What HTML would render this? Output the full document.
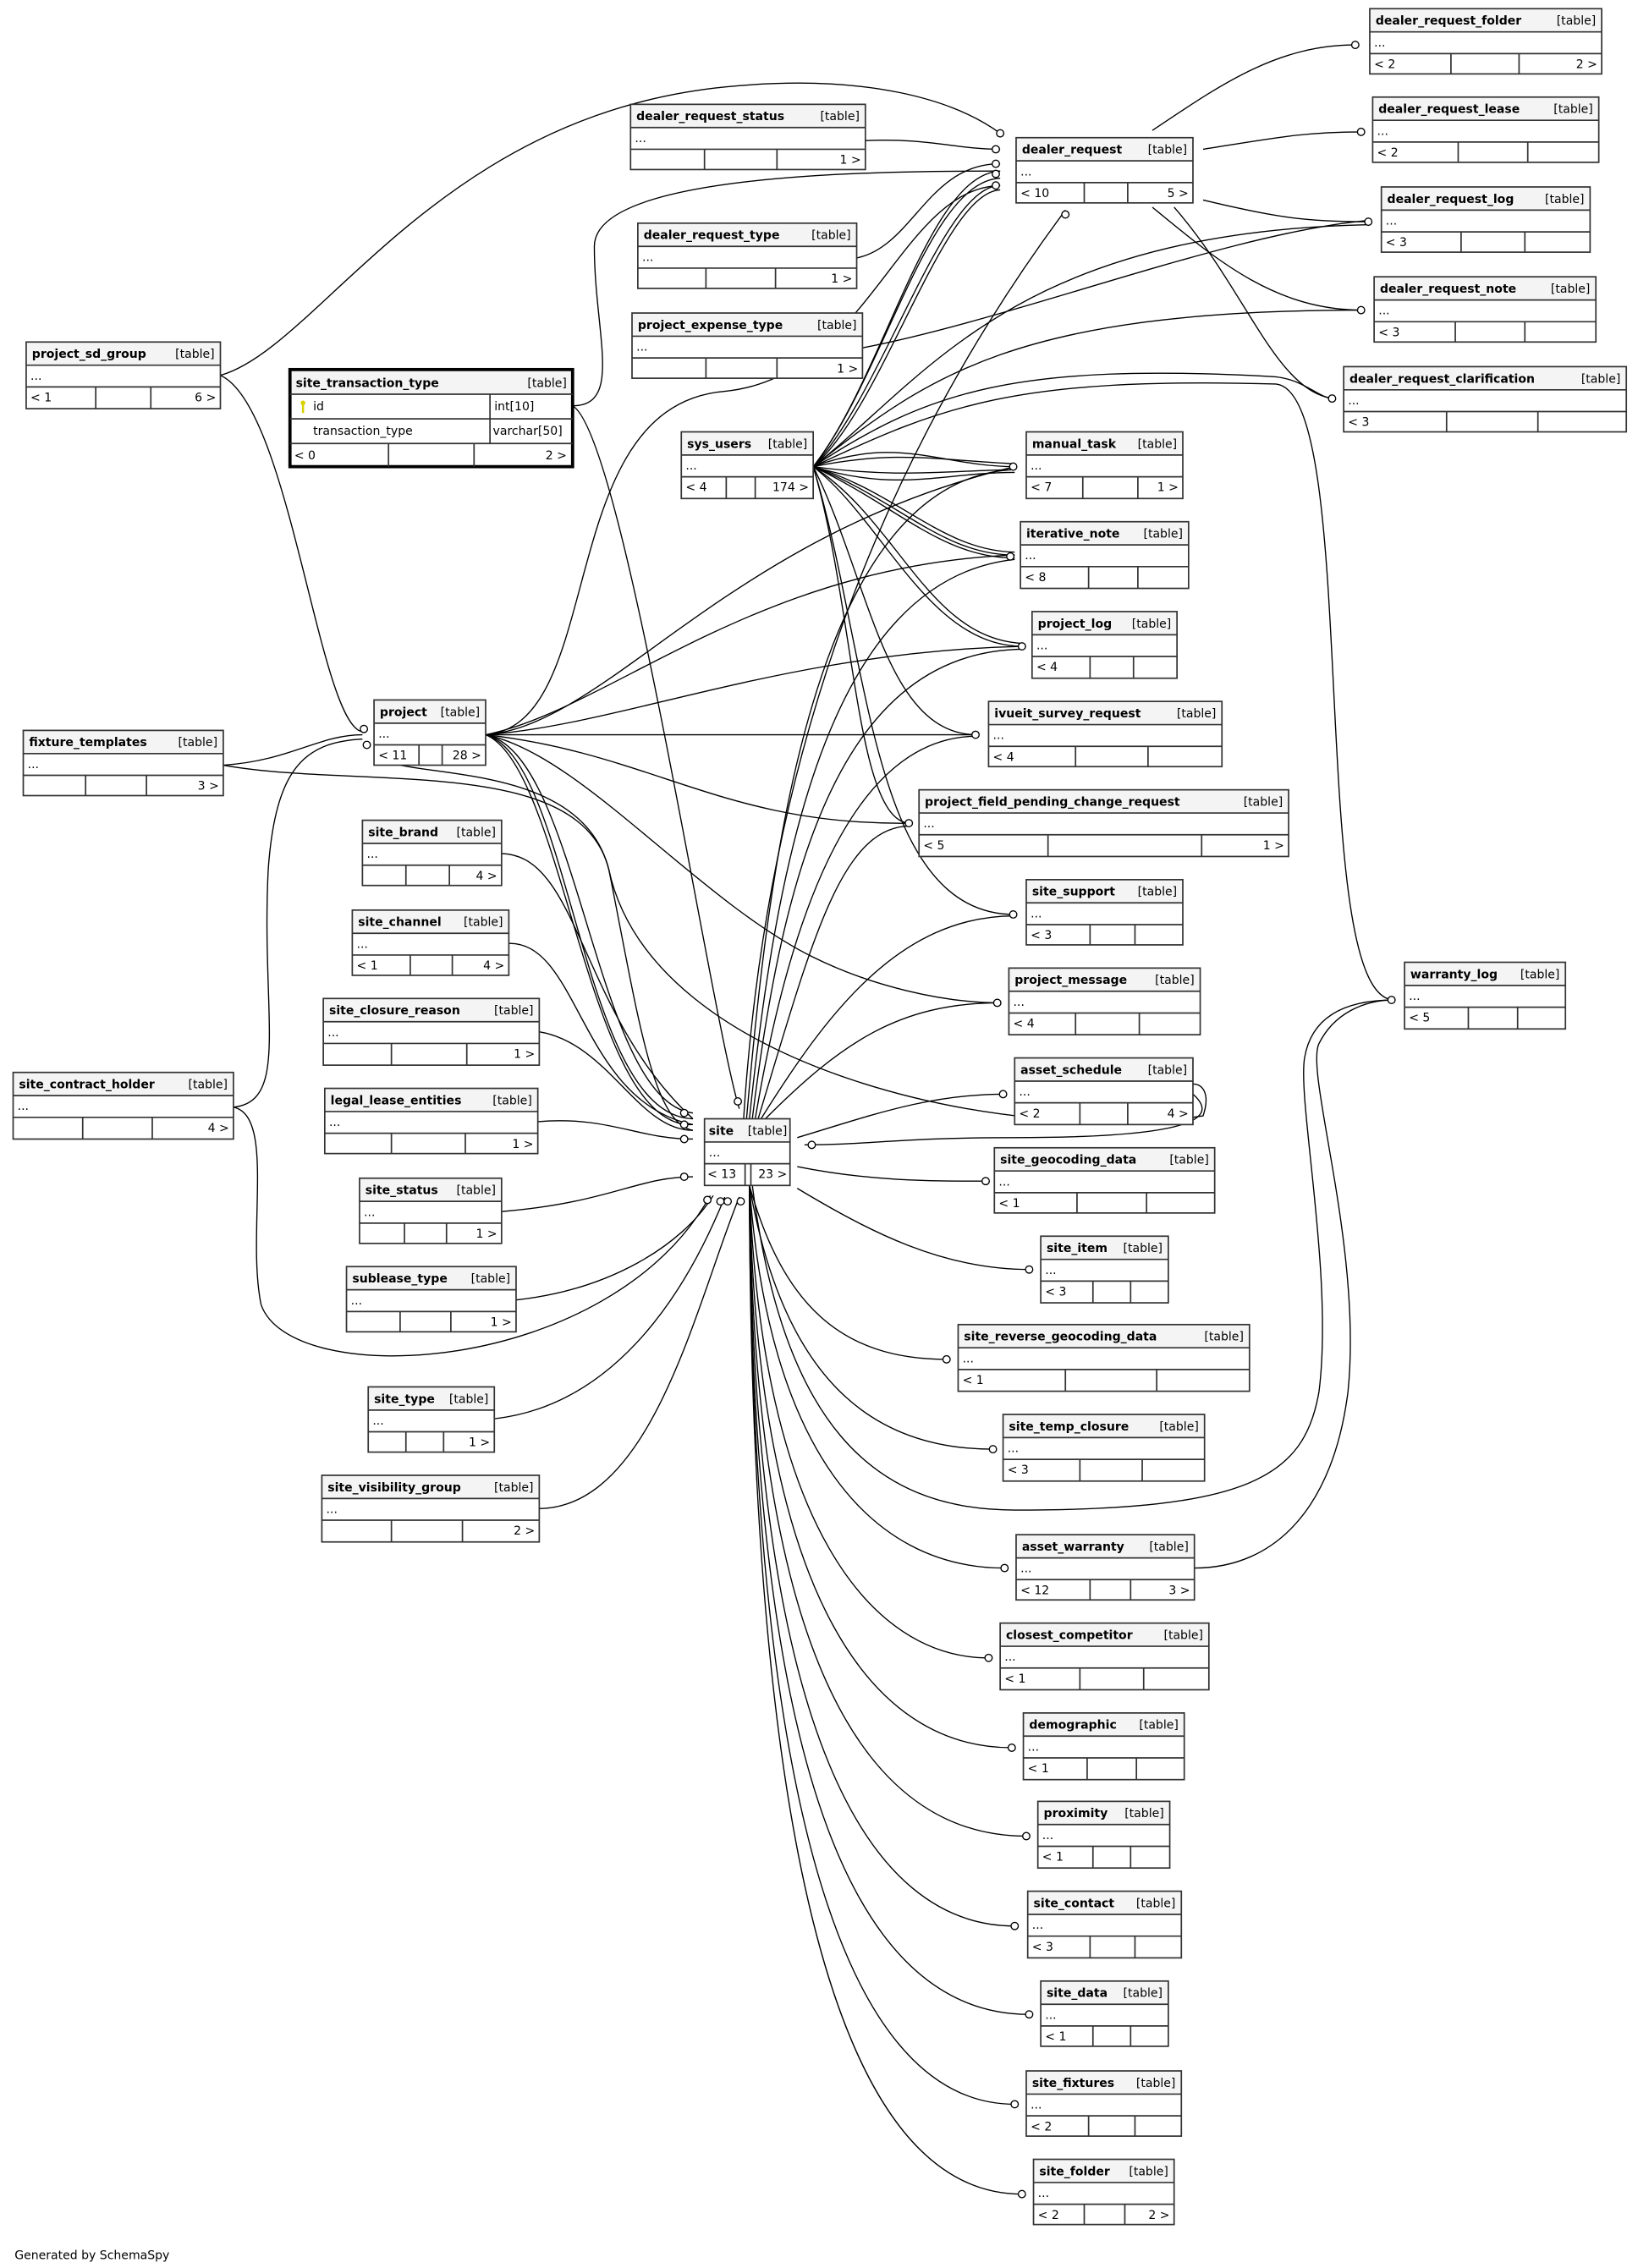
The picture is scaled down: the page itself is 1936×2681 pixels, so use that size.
<!DOCTYPE html>
<html><head><meta charset="utf-8"><style>
html,body{margin:0;padding:0;background:#fff;}
svg{display:block;}
text{font-family:"DejaVu Sans","Liberation Sans",sans-serif;font-size:8.2px;fill:#000;}
.n{font-weight:bold;}
.r{text-anchor:end;}
.o{fill:none;stroke:#333;stroke-width:1;}
.h{fill:#f4f4f4;}
.l{stroke:#333;stroke-width:1;fill:none;}
.e path{fill:none;stroke:#000;stroke-width:0.8;}
.e circle{fill:#fff;stroke:#000;stroke-width:0.8;}
</style></head><body>
<svg width="1936" height="2681" viewBox="0 0 1130 1565" xmlns="http://www.w3.org/2000/svg">
<rect width="1130" height="1565" fill="#fff"/>
<g class="e">
<path d="M152,259 C220,240 300,80 500,60 C600,50 660,70 690,92"/>
<path d="M152,259 C200,280 220,500 250,505"/>
<path d="M597,97 C640,95 660,103 690,103"/>
<path d="M395,280 C430,280 410,230 410,170 C410,120 600,118 690,118"/>
<path d="M395,280 C430,300 490,700 510,765"/>
<path d="M591,178 C630,170 640,113 690,113"/>
<path d="M595,240 C700,220 850,160 945,152"/>
<path d="M795,90 C840,60 880,31 935,31"/>
<path d="M830,103 C880,95 900,91 940,91"/>
<path d="M830,138 C880,150 900,153 945,153"/>
<path d="M795,143 C840,180 880,214 940,214"/>
<path d="M810,143 C860,200 880,270 920,275"/>
<path d="M561,322 C620,300 650,322 700,322"/>
<path d="M561,322 C620,310 650,318 700,320"/>
<path d="M561,322 C620,330 650,325 700,324"/>
<path d="M561,322 C620,340 650,326 700,326"/>
<path d="M561,322 C620,340 650,380 700,381"/>
<path d="M561,322 C620,345 650,383 700,383"/>
<path d="M561,322 C620,350 650,385 700,385"/>
<path d="M561,322 C610,360 640,445 705,446"/>
<path d="M561,322 C620,360 640,440 705,444"/>
<path d="M561,322 C610,260 640,120 690,118"/>
<path d="M561,322 C610,260 640,125 690,123"/>
<path d="M561,322 C610,270 650,128 690,128"/>
<path d="M561,322 C610,280 650,133 690,131"/>
<path d="M561,322 C640,260 700,160 945,155"/>
<path d="M561,322 C640,260 700,214 940,214"/>
<path d="M561,322 C640,270 700,250 880,260 C900,262 910,275 920,275"/>
<path d="M561,322 C650,280 700,260 880,265 C940,270 900,690 962,690"/>
<path d="M561,322 C600,400 610,507 674,507"/>
<path d="M561,322 C590,420 590,568 628,568"/>
<path d="M561,322 C600,450 600,631 700,631"/>
<path d="M335,507 C420,500 380,280 500,270 C600,260 620,130 690,128"/>
<path d="M335,507 C420,500 500,370 700,322"/>
<path d="M335,507 C420,490 520,390 700,383"/>
<path d="M335,507 C430,500 540,450 705,446"/>
<path d="M335,507 L674,507"/>
<path d="M335,507 C450,520 500,570 628,568"/>
<path d="M335,507 C400,520 480,620 560,660 C600,680 650,692 690,692"/>
<path d="M335,507 C400,520 410,760 478,768"/>
<path d="M335,507 C395,525 400,770 478,772"/>
<path d="M335,507 C390,530 405,780 478,776"/>
<path d="M258,520 C270,540 400,520 420,600 C450,740 700,790 830,770 C835,755 830,748 823,748"/>
<path d="M823,755 C840,770 830,785 700,785 C620,785 600,790 555,790"/>
<path d="M154,528 C200,525 220,507 250,507"/>
<path d="M154,528 C250,545 400,520 420,600 C440,700 450,775 478,780"/>
<path d="M161,764 C200,760 180,700 185,600 C190,530 210,512 250,510"/>
<path d="M161,764 C190,770 170,850 180,900 C200,960 420,950 490,825"/>
<path d="M346,589 C400,590 400,700 478,772"/>
<path d="M351,651 C400,650 400,760 478,776"/>
<path d="M372,712 C420,720 440,780 478,780"/>
<path d="M371,774 C420,770 440,786 478,786"/>
<path d="M346,836 C420,830 440,812 478,812"/>
<path d="M356,897 C420,890 470,860 492,825"/>
<path d="M341,979 C420,970 470,900 500,826"/>
<path d="M372,1041 C450,1040 480,900 510,826"/>
<path d="M515,772 C530,600 560,330 700,324"/>
<path d="M517,772 C535,600 570,400 700,386"/>
<path d="M519,772 C540,600 580,450 705,448"/>
<path d="M521,772 C550,600 600,508 674,508"/>
<path d="M523,772 C560,650 580,570 628,570"/>
<path d="M513,772 C530,500 620,300 735,145"/>
<path d="M525,772 C570,700 620,632 700,632"/>
<path d="M528,772 C580,720 620,692 690,692"/>
<path d="M550,785 C600,770 640,755 693,755"/>
<path d="M550,805 C600,815 640,815 680,815"/>
<path d="M550,820 C600,850 650,876 710,876"/>
<path d="M517,818 C540,900 580,938 653,938"/>
<path d="M517,818 C540,950 600,1000 685,1000"/>
<path d="M517,818 C530,1000 600,1082 693,1082"/>
<path d="M517,818 C525,1050 600,1144 682,1144"/>
<path d="M517,818 C522,1100 600,1206 698,1206"/>
<path d="M517,818 C520,1150 600,1267 708,1267"/>
<path d="M517,818 C519,1200 600,1329 700,1329"/>
<path d="M517,818 C518,1250 600,1390 710,1390"/>
<path d="M517,818 C518,1300 600,1452 700,1452"/>
<path d="M517,818 C518,1350 600,1514 705,1514"/>
<path d="M519,818 C540,980 600,1042 700,1042 C860,1042 900,1020 910,960 C920,880 895,760 900,730 C905,700 930,690 962,690"/>
<path d="M824,1082 C880,1082 920,1040 930,960 C940,860 900,740 910,720 C920,700 940,690 962,690"/>
<circle cx="690" cy="92" r="2.5"/><circle cx="687" cy="103" r="2.5"/><circle cx="687" cy="113" r="2.5"/><circle cx="687" cy="120" r="2.5"/><circle cx="687" cy="128" r="2.5"/>
<circle cx="935" cy="31" r="2.5"/><circle cx="939" cy="91" r="2.5"/><circle cx="944" cy="153" r="2.5"/><circle cx="939" cy="214" r="2.5"/><circle cx="919" cy="275" r="2.5"/>
<circle cx="699" cy="322" r="2.5"/><circle cx="697" cy="384" r="2.5"/><circle cx="705" cy="446" r="2.5"/><circle cx="673" cy="507" r="2.5"/><circle cx="627" cy="568" r="2.5"/>
<circle cx="699" cy="631" r="2.5"/><circle cx="688" cy="692" r="2.5"/><circle cx="692" cy="755" r="2.5"/><circle cx="680" cy="815" r="2.5"/><circle cx="710" cy="876" r="2.5"/>
<circle cx="653" cy="938" r="2.5"/><circle cx="685" cy="1000" r="2.5"/><circle cx="693" cy="1082" r="2.5"/><circle cx="682" cy="1144" r="2.5"/><circle cx="698" cy="1206" r="2.5"/>
<circle cx="708" cy="1267" r="2.5"/><circle cx="700" cy="1329" r="2.5"/><circle cx="710" cy="1390" r="2.5"/><circle cx="700" cy="1452" r="2.5"/><circle cx="705" cy="1514" r="2.5"/>
<circle cx="960" cy="690" r="2.5"/><circle cx="251" cy="503" r="2.5"/><circle cx="253" cy="514" r="2.5"/><circle cx="735" cy="148" r="2.5"/><circle cx="509" cy="760" r="2.5"/>
<circle cx="560" cy="790" r="2.5"/><circle cx="472" cy="768" r="2.5"/><circle cx="472" cy="776" r="2.5"/><circle cx="472" cy="786" r="2.5"/><circle cx="472" cy="812" r="2.5"/>
<circle cx="488" cy="828" r="2.5"/><circle cx="497" cy="829" r="2.5"/><circle cx="502" cy="829" r="2.5"/><circle cx="511" cy="829" r="2.5"/>
</g>

<g transform="translate(945,6)"><rect width="160" height="45" fill="#fff"/><rect class="h" width="160" height="16"/><rect class="o" width="160" height="45"/><path class="l" d="M0 16H160M0 31H160M56 31V45M103 31V45"/><text class="n" x="4" y="11">dealer_request_folder</text><text class="r" x="156" y="11">[table]</text><text x="3" y="26">...</text><text x="3" y="41">&lt; 2</text><text class="r" x="157" y="41">2 &gt;</text></g>
<g transform="translate(435,72)"><rect width="162" height="45" fill="#fff"/><rect class="h" width="162" height="16"/><rect class="o" width="162" height="45"/><path class="l" d="M0 16H162M0 31H162M51 31V45M101 31V45"/><text class="n" x="4" y="11">dealer_request_status</text><text class="r" x="158" y="11">[table]</text><text x="3" y="26">...</text><text class="r" x="159" y="41">1 &gt;</text></g>
<g transform="translate(701,95)"><rect width="122" height="45" fill="#fff"/><rect class="h" width="122" height="16"/><rect class="o" width="122" height="45"/><path class="l" d="M0 16H122M0 31H122M47 31V45M77 31V45"/><text class="n" x="4" y="11">dealer_request</text><text class="r" x="118" y="11">[table]</text><text x="3" y="26">...</text><text x="3" y="41">&lt; 10</text><text class="r" x="119" y="41">5 &gt;</text></g>
<g transform="translate(947,67)"><rect width="156" height="45" fill="#fff"/><rect class="h" width="156" height="16"/><rect class="o" width="156" height="45"/><path class="l" d="M0 16H156M0 31H156M59 31V45M107 31V45"/><text class="n" x="4" y="11">dealer_request_lease</text><text class="r" x="152" y="11">[table]</text><text x="3" y="26">...</text><text x="3" y="41">&lt; 2</text></g>
<g transform="translate(953,129)"><rect width="144" height="45" fill="#fff"/><rect class="h" width="144" height="16"/><rect class="o" width="144" height="45"/><path class="l" d="M0 16H144M0 31H144M55 31V45M99 31V45"/><text class="n" x="4" y="11">dealer_request_log</text><text class="r" x="140" y="11">[table]</text><text x="3" y="26">...</text><text x="3" y="41">&lt; 3</text></g>
<g transform="translate(948,191)"><rect width="153" height="45" fill="#fff"/><rect class="h" width="153" height="16"/><rect class="o" width="153" height="45"/><path class="l" d="M0 16H153M0 31H153M56 31V45M104 31V45"/><text class="n" x="4" y="11">dealer_request_note</text><text class="r" x="149" y="11">[table]</text><text x="3" y="26">...</text><text x="3" y="41">&lt; 3</text></g>
<g transform="translate(927,253)"><rect width="195" height="45" fill="#fff"/><rect class="h" width="195" height="16"/><rect class="o" width="195" height="45"/><path class="l" d="M0 16H195M0 31H195M71 31V45M134 31V45"/><text class="n" x="4" y="11">dealer_request_clarification</text><text class="r" x="191" y="11">[table]</text><text x="3" y="26">...</text><text x="3" y="41">&lt; 3</text></g>
<g transform="translate(440,154)"><rect width="151" height="45" fill="#fff"/><rect class="h" width="151" height="16"/><rect class="o" width="151" height="45"/><path class="l" d="M0 16H151M0 31H151M47 31V45M95 31V45"/><text class="n" x="4" y="11">dealer_request_type</text><text class="r" x="147" y="11">[table]</text><text x="3" y="26">...</text><text class="r" x="148" y="41">1 &gt;</text></g>
<g transform="translate(436,216)"><rect width="159" height="45" fill="#fff"/><rect class="h" width="159" height="16"/><rect class="o" width="159" height="45"/><path class="l" d="M0 16H159M0 31H159M51 31V45M100 31V45"/><text class="n" x="4" y="11">project_expense_type</text><text class="r" x="155" y="11">[table]</text><text x="3" y="26">...</text><text class="r" x="156" y="41">1 &gt;</text></g>
<g transform="translate(18,236)"><rect width="134" height="46" fill="#fff"/><rect class="h" width="134" height="16"/><rect class="o" width="134" height="46"/><path class="l" d="M0 16H134M0 31H134M48 31V46M86 31V46"/><text class="n" x="4" y="11">project_sd_group</text><text class="r" x="130" y="11">[table]</text><text x="3" y="26">...</text><text x="3" y="41">&lt; 1</text><text class="r" x="131" y="41">6 &gt;</text></g>
<g transform="translate(200,255)"><rect width="195" height="67" fill="#fff"/><rect class="h" width="195" height="17"/><rect width="195" height="67" fill="none" stroke="#000" stroke-width="2.2"/><path class="l" d="M0 17H195M0 34H195M0 51H195M138 17V51M68 51V67M127 51V67"/><text class="n" x="4" y="12">site_transaction_type</text><text class="r" x="191" y="12">[table]</text><path d="M9 23 v7" stroke="#d8d000" stroke-width="1.5"/><circle cx="9" cy="23" r="1.6" fill="#d8d000"/><text x="16" y="28">id</text><text x="141" y="28">int[10]</text><text x="16" y="45">transaction_type</text><text x="140" y="45">varchar[50]</text><text x="3" y="62">&lt; 0</text><text class="r" x="191" y="62">2 &gt;</text></g>
<g transform="translate(470,298)"><rect width="91" height="46" fill="#fff"/><rect class="h" width="91" height="16"/><rect class="o" width="91" height="46"/><path class="l" d="M0 16H91M0 31H91M31 31V46M51 31V46"/><text class="n" x="4" y="11">sys_users</text><text class="r" x="87" y="11">[table]</text><text x="3" y="26">...</text><text x="3" y="41">&lt; 4</text><text class="r" x="88" y="41">174 &gt;</text></g>
<g transform="translate(708,298)"><rect width="108" height="46" fill="#fff"/><rect class="h" width="108" height="16"/><rect class="o" width="108" height="46"/><path class="l" d="M0 16H108M0 31H108M39 31V46M77 31V46"/><text class="n" x="4" y="11">manual_task</text><text class="r" x="104" y="11">[table]</text><text x="3" y="26">...</text><text x="3" y="41">&lt; 7</text><text class="r" x="105" y="41">1 &gt;</text></g>
<g transform="translate(704,360)"><rect width="116" height="46" fill="#fff"/><rect class="h" width="116" height="16"/><rect class="o" width="116" height="46"/><path class="l" d="M0 16H116M0 31H116M47 31V46M81 31V46"/><text class="n" x="4" y="11">iterative_note</text><text class="r" x="112" y="11">[table]</text><text x="3" y="26">...</text><text x="3" y="41">&lt; 8</text></g>
<g transform="translate(712,422)"><rect width="100" height="46" fill="#fff"/><rect class="h" width="100" height="16"/><rect class="o" width="100" height="46"/><path class="l" d="M0 16H100M0 31H100M40 31V46M70 31V46"/><text class="n" x="4" y="11">project_log</text><text class="r" x="96" y="11">[table]</text><text x="3" y="26">...</text><text x="3" y="41">&lt; 4</text></g>
<g transform="translate(682,484)"><rect width="161" height="45" fill="#fff"/><rect class="h" width="161" height="16"/><rect class="o" width="161" height="45"/><path class="l" d="M0 16H161M0 31H161M60 31V45M110 31V45"/><text class="n" x="4" y="11">ivueit_survey_request</text><text class="r" x="157" y="11">[table]</text><text x="3" y="26">...</text><text x="3" y="41">&lt; 4</text></g>
<g transform="translate(634,545)"><rect width="255" height="46" fill="#fff"/><rect class="h" width="255" height="16"/><rect class="o" width="255" height="46"/><path class="l" d="M0 16H255M0 31H255M89 31V46M195 31V46"/><text class="n" x="4" y="11">project_field_pending_change_request</text><text class="r" x="251" y="11">[table]</text><text x="3" y="26">...</text><text x="3" y="41">&lt; 5</text><text class="r" x="252" y="41">1 &gt;</text></g>
<g transform="translate(708,607)"><rect width="108" height="45" fill="#fff"/><rect class="h" width="108" height="16"/><rect class="o" width="108" height="45"/><path class="l" d="M0 16H108M0 31H108M44 31V45M75 31V45"/><text class="n" x="4" y="11">site_support</text><text class="r" x="104" y="11">[table]</text><text x="3" y="26">...</text><text x="3" y="41">&lt; 3</text></g>
<g transform="translate(696,668)"><rect width="132" height="46" fill="#fff"/><rect class="h" width="132" height="16"/><rect class="o" width="132" height="46"/><path class="l" d="M0 16H132M0 31H132M46 31V46M90 31V46"/><text class="n" x="4" y="11">project_message</text><text class="r" x="128" y="11">[table]</text><text x="3" y="26">...</text><text x="3" y="41">&lt; 4</text></g>
<g transform="translate(700,730)"><rect width="123" height="46" fill="#fff"/><rect class="h" width="123" height="16"/><rect class="o" width="123" height="46"/><path class="l" d="M0 16H123M0 31H123M45 31V46M78 31V46"/><text class="n" x="4" y="11">asset_schedule</text><text class="r" x="119" y="11">[table]</text><text x="3" y="26">...</text><text x="3" y="41">&lt; 2</text><text class="r" x="120" y="41">4 &gt;</text></g>
<g transform="translate(686,792)"><rect width="152" height="45" fill="#fff"/><rect class="h" width="152" height="16"/><rect class="o" width="152" height="45"/><path class="l" d="M0 16H152M0 31H152M57 31V45M105 31V45"/><text class="n" x="4" y="11">site_geocoding_data</text><text class="r" x="148" y="11">[table]</text><text x="3" y="26">...</text><text x="3" y="41">&lt; 1</text></g>
<g transform="translate(718,853)"><rect width="88" height="46" fill="#fff"/><rect class="h" width="88" height="16"/><rect class="o" width="88" height="46"/><path class="l" d="M0 16H88M0 31H88M36 31V46M62 31V46"/><text class="n" x="4" y="11">site_item</text><text class="r" x="84" y="11">[table]</text><text x="3" y="26">...</text><text x="3" y="41">&lt; 3</text></g>
<g transform="translate(661,914)"><rect width="201" height="46" fill="#fff"/><rect class="h" width="201" height="16"/><rect class="o" width="201" height="46"/><path class="l" d="M0 16H201M0 31H201M74 31V46M137 31V46"/><text class="n" x="4" y="11">site_reverse_geocoding_data</text><text class="r" x="197" y="11">[table]</text><text x="3" y="26">...</text><text x="3" y="41">&lt; 1</text></g>
<g transform="translate(692,976)"><rect width="139" height="46" fill="#fff"/><rect class="h" width="139" height="16"/><rect class="o" width="139" height="46"/><path class="l" d="M0 16H139M0 31H139M53 31V46M96 31V46"/><text class="n" x="4" y="11">site_temp_closure</text><text class="r" x="135" y="11">[table]</text><text x="3" y="26">...</text><text x="3" y="41">&lt; 3</text></g>
<g transform="translate(701,1059)"><rect width="123" height="45" fill="#fff"/><rect class="h" width="123" height="16"/><rect class="o" width="123" height="45"/><path class="l" d="M0 16H123M0 31H123M51 31V45M79 31V45"/><text class="n" x="4" y="11">asset_warranty</text><text class="r" x="119" y="11">[table]</text><text x="3" y="26">...</text><text x="3" y="41">&lt; 12</text><text class="r" x="120" y="41">3 &gt;</text></g>
<g transform="translate(690,1120)"><rect width="144" height="46" fill="#fff"/><rect class="h" width="144" height="16"/><rect class="o" width="144" height="46"/><path class="l" d="M0 16H144M0 31H144M55 31V46M99 31V46"/><text class="n" x="4" y="11">closest_competitor</text><text class="r" x="140" y="11">[table]</text><text x="3" y="26">...</text><text x="3" y="41">&lt; 1</text></g>
<g transform="translate(706,1182)"><rect width="111" height="46" fill="#fff"/><rect class="h" width="111" height="16"/><rect class="o" width="111" height="46"/><path class="l" d="M0 16H111M0 31H111M44 31V46M78 31V46"/><text class="n" x="4" y="11">demographic</text><text class="r" x="107" y="11">[table]</text><text x="3" y="26">...</text><text x="3" y="41">&lt; 1</text></g>
<g transform="translate(716,1243)"><rect width="91" height="46" fill="#fff"/><rect class="h" width="91" height="16"/><rect class="o" width="91" height="46"/><path class="l" d="M0 16H91M0 31H91M38 31V46M64 31V46"/><text class="n" x="4" y="11">proximity</text><text class="r" x="87" y="11">[table]</text><text x="3" y="26">...</text><text x="3" y="41">&lt; 1</text></g>
<g transform="translate(709,1305)"><rect width="106" height="46" fill="#fff"/><rect class="h" width="106" height="16"/><rect class="o" width="106" height="46"/><path class="l" d="M0 16H106M0 31H106M43 31V46M74 31V46"/><text class="n" x="4" y="11">site_contact</text><text class="r" x="102" y="11">[table]</text><text x="3" y="26">...</text><text x="3" y="41">&lt; 3</text></g>
<g transform="translate(718,1367)"><rect width="88" height="45" fill="#fff"/><rect class="h" width="88" height="16"/><rect class="o" width="88" height="45"/><path class="l" d="M0 16H88M0 31H88M36 31V45M62 31V45"/><text class="n" x="4" y="11">site_data</text><text class="r" x="84" y="11">[table]</text><text x="3" y="26">...</text><text x="3" y="41">&lt; 1</text></g>
<g transform="translate(708,1429)"><rect width="107" height="45" fill="#fff"/><rect class="h" width="107" height="16"/><rect class="o" width="107" height="45"/><path class="l" d="M0 16H107M0 31H107M43 31V45M75 31V45"/><text class="n" x="4" y="11">site_fixtures</text><text class="r" x="103" y="11">[table]</text><text x="3" y="26">...</text><text x="3" y="41">&lt; 2</text></g>
<g transform="translate(713,1490)"><rect width="97" height="45" fill="#fff"/><rect class="h" width="97" height="16"/><rect class="o" width="97" height="45"/><path class="l" d="M0 16H97M0 31H97M35 31V45M63 31V45"/><text class="n" x="4" y="11">site_folder</text><text class="r" x="93" y="11">[table]</text><text x="3" y="26">...</text><text x="3" y="41">&lt; 2</text><text class="r" x="94" y="41">2 &gt;</text></g>
<g transform="translate(969,664)"><rect width="111" height="46" fill="#fff"/><rect class="h" width="111" height="16"/><rect class="o" width="111" height="46"/><path class="l" d="M0 16H111M0 31H111M44 31V46M78 31V46"/><text class="n" x="4" y="11">warranty_log</text><text class="r" x="107" y="11">[table]</text><text x="3" y="26">...</text><text x="3" y="41">&lt; 5</text></g>
<g transform="translate(258,483)"><rect width="77" height="45" fill="#fff"/><rect class="h" width="77" height="16"/><rect class="o" width="77" height="45"/><path class="l" d="M0 16H77M0 31H77M31 31V45M47 31V45"/><text class="n" x="4" y="11">project</text><text class="r" x="73" y="11">[table]</text><text x="3" y="26">...</text><text x="3" y="41">&lt; 11</text><text class="r" x="74" y="41">28 &gt;</text></g>
<g transform="translate(16,504)"><rect width="138" height="45" fill="#fff"/><rect class="h" width="138" height="16"/><rect class="o" width="138" height="45"/><path class="l" d="M0 16H138M0 31H138M43 31V45M85 31V45"/><text class="n" x="4" y="11">fixture_templates</text><text class="r" x="134" y="11">[table]</text><text x="3" y="26">...</text><text class="r" x="135" y="41">3 &gt;</text></g>
<g transform="translate(250,566)"><rect width="96" height="45" fill="#fff"/><rect class="h" width="96" height="16"/><rect class="o" width="96" height="45"/><path class="l" d="M0 16H96M0 31H96M30 31V45M60 31V45"/><text class="n" x="4" y="11">site_brand</text><text class="r" x="92" y="11">[table]</text><text x="3" y="26">...</text><text class="r" x="93" y="41">4 &gt;</text></g>
<g transform="translate(243,628)"><rect width="108" height="45" fill="#fff"/><rect class="h" width="108" height="16"/><rect class="o" width="108" height="45"/><path class="l" d="M0 16H108M0 31H108M40 31V45M69 31V45"/><text class="n" x="4" y="11">site_channel</text><text class="r" x="104" y="11">[table]</text><text x="3" y="26">...</text><text x="3" y="41">&lt; 1</text><text class="r" x="105" y="41">4 &gt;</text></g>
<g transform="translate(223,689)"><rect width="149" height="46" fill="#fff"/><rect class="h" width="149" height="16"/><rect class="o" width="149" height="46"/><path class="l" d="M0 16H149M0 31H149M47 31V46M99 31V46"/><text class="n" x="4" y="11">site_closure_reason</text><text class="r" x="145" y="11">[table]</text><text x="3" y="26">...</text><text class="r" x="146" y="41">1 &gt;</text></g>
<g transform="translate(224,751)"><rect width="147" height="45" fill="#fff"/><rect class="h" width="147" height="16"/><rect class="o" width="147" height="45"/><path class="l" d="M0 16H147M0 31H147M46 31V45M97 31V45"/><text class="n" x="4" y="11">legal_lease_entities</text><text class="r" x="143" y="11">[table]</text><text x="3" y="26">...</text><text class="r" x="144" y="41">1 &gt;</text></g>
<g transform="translate(248,813)"><rect width="98" height="45" fill="#fff"/><rect class="h" width="98" height="16"/><rect class="o" width="98" height="45"/><path class="l" d="M0 16H98M0 31H98M31 31V45M60 31V45"/><text class="n" x="4" y="11">site_status</text><text class="r" x="94" y="11">[table]</text><text x="3" y="26">...</text><text class="r" x="95" y="41">1 &gt;</text></g>
<g transform="translate(239,874)"><rect width="117" height="45" fill="#fff"/><rect class="h" width="117" height="16"/><rect class="o" width="117" height="45"/><path class="l" d="M0 16H117M0 31H117M37 31V45M72 31V45"/><text class="n" x="4" y="11">sublease_type</text><text class="r" x="113" y="11">[table]</text><text x="3" y="26">...</text><text class="r" x="114" y="41">1 &gt;</text></g>
<g transform="translate(254,957)"><rect width="87" height="45" fill="#fff"/><rect class="h" width="87" height="16"/><rect class="o" width="87" height="45"/><path class="l" d="M0 16H87M0 31H87M26 31V45M52 31V45"/><text class="n" x="4" y="11">site_type</text><text class="r" x="83" y="11">[table]</text><text x="3" y="26">...</text><text class="r" x="84" y="41">1 &gt;</text></g>
<g transform="translate(222,1018)"><rect width="150" height="46" fill="#fff"/><rect class="h" width="150" height="16"/><rect class="o" width="150" height="46"/><path class="l" d="M0 16H150M0 31H150M48 31V46M97 31V46"/><text class="n" x="4" y="11">site_visibility_group</text><text class="r" x="146" y="11">[table]</text><text x="3" y="26">...</text><text class="r" x="147" y="41">2 &gt;</text></g>
<g transform="translate(9,740)"><rect width="152" height="46" fill="#fff"/><rect class="h" width="152" height="16"/><rect class="o" width="152" height="46"/><path class="l" d="M0 16H152M0 31H152M48 31V46M96 31V46"/><text class="n" x="4" y="11">site_contract_holder</text><text class="r" x="148" y="11">[table]</text><text x="3" y="26">...</text><text class="r" x="149" y="41">4 &gt;</text></g>
<g transform="translate(486,772)"><rect width="59" height="46" fill="#fff"/><rect class="h" width="59" height="16"/><rect class="o" width="59" height="46"/><path class="l" d="M0 16H59M0 31H59M28 31V46M32 31V46"/><text class="n" x="3" y="11">site</text><text class="r" x="57" y="11">[table]</text><text x="3" y="26">...</text><text x="2" y="41">&lt; 13</text><text class="r" x="57" y="41">23 &gt;</text></g>
<text x="10" y="1559">Generated by SchemaSpy</text>
</svg>
</body></html>
